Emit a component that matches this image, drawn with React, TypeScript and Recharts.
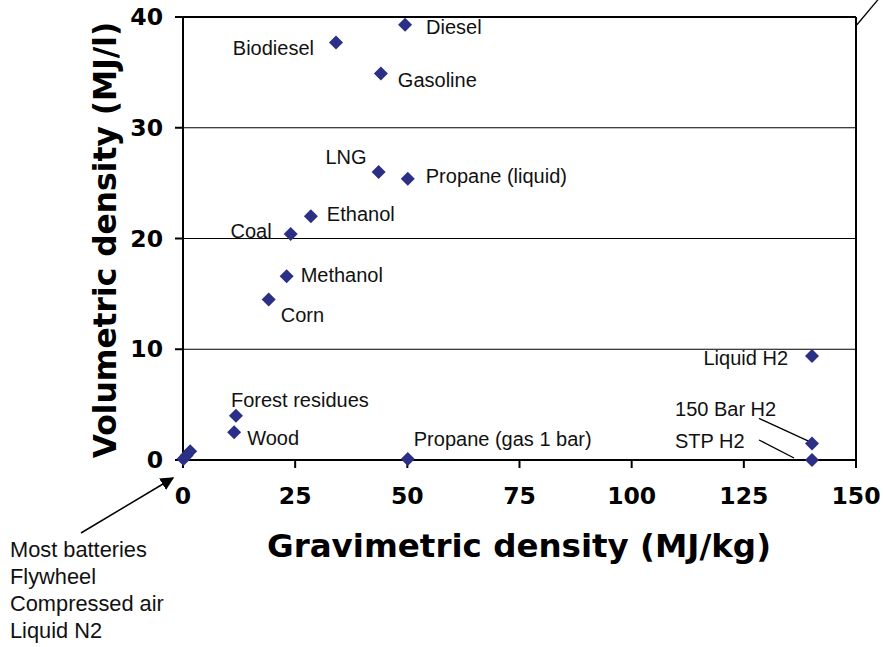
import {
  ScatterChart,
  Scatter,
  XAxis,
  YAxis,
  CartesianGrid,
  ReferenceLine,
} from 'recharts'

// fuel names, gravimetric (MJ/kg) and volumetric (MJ/l) density
const fuels = [
  'Diesel',
  'Biodiesel',
  'Gasoline',
  'LNG',
  'Propane (liquid)',
  'Ethanol',
  'Coal',
  'Methanol',
  'Corn',
  'Liquid H2',
  'Forest residues',
  'Wood',
  'Propane (gas 1 bar)',
  '150 Bar H2',
  'STP H2',
  '',
  '',
  '',
]
const gravimetric = [
  49.5, 34.1, 44.1, 43.6, 50.1, 28.5, 24.0, 23.1, 19.1, 140.2, 11.8, 11.4, 50.1,
  140.2, 140.2, 0.1, 0.8, 1.6,
]
const volumetric = [
  39.3, 37.7, 34.9, 26.0, 25.4, 22.0, 20.4, 16.6, 14.5, 9.4, 4.0, 2.5, 0.1, 1.5,
  0, 0.1, 0.4, 0.8,
]
const xTicks = [0, 25, 50, 75, 100, 125, 150]
const yTicks = [0, 10, 20, 30, 40]
const batteryNotes = ['Most batteries', 'Flywheel', 'Compressed air', 'Liquid N2']

const data = fuels.map((name, i) => ({
  name,
  x: gravimetric[i],
  y: volumetric[i],
}))

// label placement relative to each marker
const labelPos: Record<string, { dx: number; dy: number; anchor?: string; lead?: number[] }> = {
  Diesel: { dx: 21, dy: 9 },
  Biodiesel: { dx: -22, dy: 13, anchor: 'end' },
  Gasoline: { dx: 17, dy: 14 },
  LNG: { dx: -12, dy: -8, anchor: 'end' },
  'Propane (liquid)': { dx: 18, dy: 4 },
  Ethanol: { dx: 16, dy: 5 },
  Coal: { dx: -19, dy: 4, anchor: 'end' },
  Methanol: { dx: 14, dy: 6 },
  Corn: { dx: 12, dy: 23 },
  'Liquid H2': { dx: -24, dy: 9, anchor: 'end' },
  'Forest residues': { dx: -5, dy: -9 },
  Wood: { dx: 13, dy: 13 },
  'Propane (gas 1 bar)': { dx: 6, dy: -13 },
  '150 Bar H2': { dx: -137, dy: -27, lead: [-53, -25, -3, -2] },
  'STP H2': { dx: -137, dy: -12, lead: [-53, -20, -18, -2] },
}

const NAVY = '#2B2F86'
const labelFont = '"Liberation Sans", Arial, sans-serif'
const axisFont = '"DejaVu Sans", Verdana, sans-serif'

function FuelPoint(props: any) {
  const { cx, cy, payload } = props
  const r = 7
  const pos = labelPos[payload.name]
  return (
    <g>
      {pos?.lead && (
        <line
          x1={cx + pos.lead[0]}
          y1={cy + pos.lead[1]}
          x2={cx + pos.lead[2]}
          y2={cy + pos.lead[3]}
          stroke="#000"
          strokeWidth={1.3}
        />
      )}
      <polygon
        points={`${cx},${cy - r} ${cx + r},${cy} ${cx},${cy + r} ${cx - r},${cy}`}
        fill={NAVY}
      />
      {pos && (
        <text
          x={cx + pos.dx}
          y={cy + pos.dy}
          textAnchor={pos.anchor || 'start'}
          fontFamily={labelFont}
          fontSize={20}
          fill="#111"
        >
          {payload.name}
        </text>
      )}
    </g>
  )
}

function XTick(props: any) {
  const { x, y, payload } = props
  return (
    <text x={x} y={y + 34} textAnchor="middle" fontFamily={axisFont} fontWeight="bold" fontSize={23.5} fill="#000">
      {payload.value}
    </text>
  )
}

function YTick(props: any) {
  const { x, y, payload } = props
  return (
    <text x={x - 10} y={y + 8} textAnchor="end" fontFamily={axisFont} fontWeight="bold" fontSize={23.5} fill="#000">
      {payload.value}
    </text>
  )
}

export default function App() {
  return (
    <div style={{ position: 'absolute', left: 0, top: 0, width: 883, height: 647, background: '#fff' }}>
      <ScatterChart width={883} height={647} margin={{ top: 17, right: 27, bottom: 147, left: 123 }}>
        <CartesianGrid horizontal vertical={false} stroke="#000" strokeWidth={1} />
        <XAxis
          type="number"
          dataKey="x"
          domain={[0, 150]}
          ticks={xTicks}
          height={40}
          stroke="#000"
          strokeWidth={2}
          tickSize={8}
          tick={<XTick />}
        />
        <YAxis
          type="number"
          dataKey="y"
          domain={[0, 40]}
          ticks={yTicks}
          width={60}
          stroke="#000"
          strokeWidth={2}
          tickSize={8}
          tick={<YTick />}
        />
        <ReferenceLine y={40} stroke="#000" strokeWidth={2} />
        <ReferenceLine x={150} stroke="#000" strokeWidth={2} />
        <ReferenceLine
          segment={[
            { x: 150.2, y: 39.3 },
            { x: 155.8, y: 42 },
          ]}
          stroke="#000"
          strokeWidth={1.3}
          ifOverflow="visible"
        />
        <Scatter data={data} shape={<FuelPoint />} isAnimationActive={false} />
      </ScatterChart>
      <svg
        width={883}
        height={647}
        style={{ position: 'absolute', left: 0, top: 0, pointerEvents: 'none' }}
      >
        <defs>
          <marker id="arrow" viewBox="0 0 10 10" refX="9" refY="5" markerWidth="9" markerHeight="9" orient="auto">
            <path d="M0,0 L10,5 L0,10 z" fill="#000" />
          </marker>
        </defs>
        <line x1={81} y1={533} x2={173} y2={478} stroke="#000" strokeWidth={1.5} markerEnd="url(#arrow)" />
        <text
          transform="translate(116,240) rotate(-90)"
          textAnchor="middle"
          fontFamily={axisFont}
          fontWeight="bold"
          fontSize={31.3}
          fill="#000"
        >
          Volumetric density (MJ/l)
        </text>
        <text x={519} y={557} textAnchor="middle" fontFamily={axisFont} fontWeight="bold" fontSize={32.5} fill="#000">
          Gravimetric density (MJ/kg)
        </text>
        {batteryNotes.map((t, i) => (
          <text key={t} x={10} y={557 + i * 27} fontFamily={labelFont} fontSize={21.8} fill="#111">
            {t}
          </text>
        ))}
      </svg>
    </div>
  )
}
